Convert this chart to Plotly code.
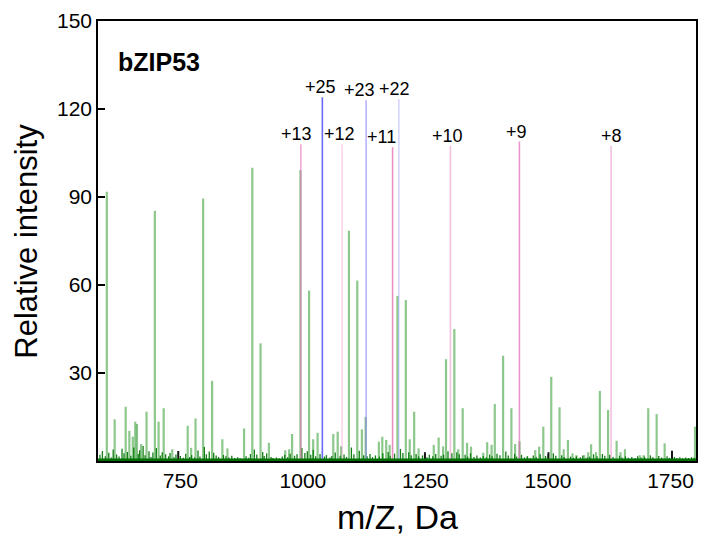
import plotly.graph_objects as go

# ---------------- data ----------------
# major / minor green peaks (m/z, relative intensity)
green_peaks = [
    (600, 91.8), (616, 14.2), (638.5, 18.5), (646, 10.3), (653, 8.3), (658, 13.4),
    (661.5, 12.6), (670, 5.8), (681, 16.8), (698, 85.3), (705.6, 13.4), (716, 18.0),
    (733.5, 4.0), (765, 12.0), (772, 4.5), (781, 14.5), (796.5, 89.5), (814.8, 27.3),
    (835.7, 7.4), (846, 4.3), (880, 11.1), (896.8, 100.0), (913.6, 40.1), (930.7, 6.2),
    (964, 3.7), (972, 4.0), (978, 9.2), (995, 99.2), (1012.6, 58.1), (1021, 7.4),
    (1030, 9.6), (1062, 9.2), (1071, 10.0), (1078, 5.0), (1094, 78.5), (1111, 61.5),
    (1120.4, 10.8), (1128, 15.0), (1155, 6.6), (1162, 8.3), (1170, 7.2), (1177, 5.5),
    (1193, 56.3), (1210, 54.9), (1218, 7.4), (1227, 16.8), (1236, 4.3), (1267, 5.5),
    (1277, 8.0), (1286, 5.0), (1292, 34.7), (1309, 45.0), (1317, 4.0), (1326, 18.0),
    (1335, 6.2), (1343, 4.9), (1368, 2.8), (1376, 6.4), (1385, 5.5), (1391.5, 19.4),
    (1408.5, 35.9), (1425.4, 18.0), (1433, 5.8), (1442, 6.7), (1458, 1.5), (1474, 3.7),
    (1482, 4.9), (1490.5, 11.7), (1506.7, 28.7), (1523.6, 18.3), (1532, 4.0),
    (1540.7, 7.2), (1550, 2.6), (1558, 2.0), (1574, 2.0), (1582, 3.0), (1588, 5.7),
    (1598, 3.0), (1605.8, 23.9), (1622.6, 17.4), (1640, 6.9), (1648, 3.0), (1657, 4.0),
    (1687, 2.0), (1695, 2.0), (1704.6, 18.0), (1721.7, 16.0), (1738, 6.0), (1800, 11.7),
]

# baseline noise (m/z, intensity)
noise_peaks = [
    (586, 2.1), (591, 3.4), (597, 1.6), (604, 2.8), (609, 1.2), (613, 3.9), (620, 2.2),
    (625, 1.5), (631, 4.2), (635, 2.6), (642, 3.1), (649, 1.8), (655, 4.6), (664, 2.4),
    (667, 3.7), (674, 5.1), (678, 2.0), (686, 3.3), (690, 1.4), (694, 2.9), (701, 4.4),
    (709, 1.9), (713, 3.0), (720, 2.3), (726, 1.6), (729, 2.7), (737, 1.3), (741, 2.2),
    (750, 1.7), (756, 1.1), (761, 2.5), (769, 1.4), (773, 2.0), (779, 1.2), (786, 3.6),
    (790, 1.5), (799, 4.8), (803, 2.3), (809, 3.2), (818, 2.8), (823, 1.9), (828, 1.4),
    (838, 2.1), (843, 1.6), (849, 1.2), (855, 1.8), (861, 1.0), (867, 1.3), (872, 0.9),
    (884, 1.6), (889, 1.1), (893, 2.4), (901, 3.9), (906, 2.2), (918, 3.1), (921, 1.7),
    (926, 2.6), (935, 1.4), (939, 1.0), (946, 1.2), (952, 0.9), (958, 1.5), (963, 2.1),
    (969, 1.3), (974, 2.5), (983, 1.8), (988, 2.3), (998, 4.4), (1004, 2.7), (1009, 3.3),
    (1016, 2.1), (1021, 3.8), (1026, 1.6), (1035, 2.4), (1044, 1.5), (1048, 2.0),
    (1055, 1.2), (1059, 1.7), (1066, 2.9), (1076, 1.8), (1084, 2.2), (1089, 1.4),
    (1099, 4.6), (1104, 2.3), (1115, 3.5), (1124, 2.0), (1131, 1.6), (1137, 2.4),
    (1142, 1.3), (1148, 1.9), (1156, 1.5), (1163, 2.6), (1174, 3.1), (1178, 1.8),
    (1187, 2.5), (1199, 4.1), (1204, 2.7), (1216, 3.0), (1221, 2.0), (1231, 2.4),
    (1236, 1.6), (1244, 1.9), (1253, 1.3), (1258, 2.1), (1265, 1.6), (1271, 2.4),
    (1282, 1.8), (1287, 2.2), (1296, 3.3), (1304, 2.6), (1314, 3.0), (1319, 2.3),
    (1331, 2.1), (1336, 1.5), (1342, 2.6), (1349, 1.4), (1355, 1.9), (1362, 1.2),
    (1368, 1.7), (1374, 1.3), (1381, 2.2), (1386, 1.6), (1396, 2.5), (1402, 2.0),
    (1414, 3.2), (1419, 1.9), (1432, 2.4), (1436, 1.5), (1446, 2.1), (1452, 1.2),
    (1458, 1.6), (1464, 1.0), (1470, 1.9), (1476, 1.4), (1484, 2.3), (1495, 1.7),
    (1500, 2.2), (1511, 2.6), (1516, 1.8), (1528, 2.0), (1533, 1.4), (1546, 1.5),
    (1552, 1.1), (1558, 1.6), (1566, 1.3), (1571, 1.9), (1580, 1.2), (1585, 1.5),
    (1593, 2.3), (1600, 1.6), (1611, 2.4), (1616, 1.8), (1626, 2.1), (1633, 1.4),
    (1646, 1.8), (1651, 1.2), (1658, 1.6), (1664, 1.1), (1671, 1.4), (1678, 1.0),
    (1683, 1.6), (1690, 1.2), (1697, 1.5), (1709, 1.9), (1714, 1.3), (1726, 1.7),
    (1732, 1.2), (1743, 1.6), (1748, 1.1), (1758, 1.4), (1763, 1.0), (1769, 1.3),
    (1775, 0.9), (1781, 1.2), (1787, 1.0), (1793, 1.3), (1798, 1.1),
]

# small black peaks (m/z, intensity)
black_peaks = [(745.7, 3.4), (1249, 3.0), (1501, 3.0), (1753, 3.5)]

# charge-state series
charge_labels = ["+13", "+25", "+12", "+23", "+11", "+22", "+10", "+9", "+8"]
charge_mz = [995.8, 1039.7, 1080.0, 1129.0, 1183.0, 1195.7, 1301.0, 1441.7, 1628.8]
charge_height = [108.0, 124.0, 108.0, 123.0, 107.0, 123.4, 107.5, 108.9, 107.5]
charge_colors = ["rgba(230,120,190,0.65)", "rgba(80,80,240,0.85)", "rgba(240,150,200,0.40)",
                 "rgba(120,120,250,0.55)", "rgba(225,100,170,0.70)", "rgba(150,150,255,0.40)",
                 "rgba(235,140,195,0.55)", "rgba(225,110,185,0.70)", "rgba(235,140,200,0.55)"]
label_xshift = [-4, -2, -3, -7, -11, -4, -3, -3, 0]

x_ticks = [750, 1000, 1250, 1500, 1750]
y_ticks = [30, 60, 90, 120, 150]

FONT = "Liberation Sans, Arial"


def stems(peaks):
    xs, ys = [], []
    for mz, h in peaks:
        xs += [mz, mz, None]
        ys += [0, h, None]
    return xs, ys


fig = go.Figure()

nx, ny = stems(noise_peaks)
fig.add_trace(go.Scatter(x=nx, y=ny, mode="lines", line=dict(color="rgb(20,125,20)", width=1.3),
                         hoverinfo="skip", showlegend=False))

gx, gy = stems(green_peaks)
fig.add_trace(go.Scatter(x=gx, y=gy, mode="lines", line=dict(color="rgba(0,130,0,0.45)", width=2.2),
                         hoverinfo="skip", showlegend=False))

bx, by = stems(black_peaks)
fig.add_trace(go.Scatter(x=bx, y=by, mode="lines", line=dict(color="rgb(20,20,20)", width=2),
                         hoverinfo="skip", showlegend=False))

for lab, mz, h, col, xs in zip(charge_labels, charge_mz, charge_height, charge_colors, label_xshift):
    fig.add_trace(go.Scatter(x=[mz, mz], y=[0, h], mode="lines", line=dict(color=col, width=1.6),
                             hoverinfo="skip", showlegend=False))
    fig.add_annotation(x=mz, y=h, text=lab, showarrow=False, xanchor="center", yanchor="bottom",
                       xshift=xs, yshift=-2,
                       font=dict(family=FONT, size=18, color="black"))

# baseline band
fig.add_trace(go.Scatter(x=[582, 1802], y=[0.4, 0.4], mode="lines",
                         line=dict(color="rgb(0,110,0)", width=2.5), hoverinfo="skip", showlegend=False))

fig.add_annotation(x=0.03, y=0.907, xref="paper", yref="paper", text="<b>bZIP53</b>", showarrow=False,
                   xanchor="left", yanchor="middle",
                   font=dict(family=FONT, size=25, color="black"))

# axis titles
fig.add_annotation(x=0.5, y=-0.127, xref="paper", yref="paper", text="m/Z, Da", showarrow=False,
                   xanchor="center", yanchor="middle", font=dict(family=FONT, size=34, color="black"))
fig.add_annotation(x=-0.121, y=0.5, xref="paper", yref="paper", text="Relative intensity",
                   showarrow=False, textangle=-90, xanchor="center", yanchor="middle",
                   font=dict(family=FONT, size=31, color="black"))

fig.update_layout(
    width=705, height=539,
    margin=dict(l=98, r=7, t=21, b=78),
    paper_bgcolor="white", plot_bgcolor="white",
    font=dict(family=FONT, color="black"),
    xaxis=dict(range=[582, 1802], tickvals=x_ticks, ticks="", showgrid=False, zeroline=False,
               showline=True, linecolor="black", linewidth=1.5, mirror=True,
               tickfont=dict(size=21)),
    yaxis=dict(range=[0, 150], tickvals=y_ticks, ticks="inside", ticklen=7, tickwidth=1.5,
               tickcolor="black", showgrid=False, zeroline=False,
               showline=True, linecolor="black", linewidth=1.5, mirror=True,
               tickfont=dict(size=21)),
)

fig.write_html("out.html")
